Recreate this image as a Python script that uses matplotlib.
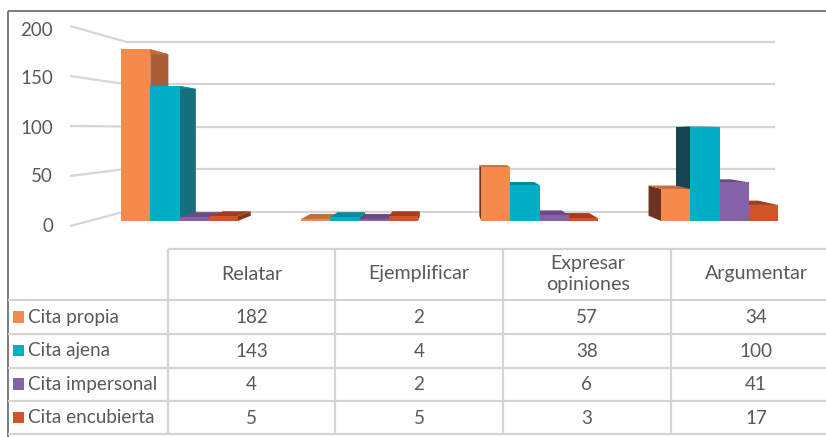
import matplotlib
matplotlib.use("Agg")
import matplotlib.pyplot as plt
from matplotlib.patches import Polygon, Rectangle

categories = ["Relatar", "Ejemplificar", "Expresar\nopiniones", "Argumentar"]
series_names = ["Cita propia", "Cita ajena", "Cita impersonal", "Cita encubierta"]
cita_propia = [182, 2, 57, 34]
cita_ajena = [143, 4, 38, 100]
cita_impersonal = [4, 2, 6, 41]
cita_encubierta = [5, 5, 3, 17]
y_ticks = [0, 50, 100, 150, 200]
series_values = [cita_propia, cita_ajena, cita_impersonal, cita_encubierta]

W, H = 826, 437
plt.rcParams["font.family"] = ["Lato", "DejaVu Sans"]
TXT = "#595959"
GRID = "#d6d6d6"
front = ["#F58A4D", "#00AFC4", "#8562A6", "#CE5528"]
top = ["#C46E3C", "#008C9E", "#6C4A88", "#A03E20"]
side = ["#A85F36", "#14707F", "#5A3D73", "#8A3419"]
side_left = ["#6E3320", "#17454F", "#4F3566", "#7A2E16"]

fig = plt.figure(figsize=(W / 100, H / 100), dpi=100)

# value axes: front plane of the bars
PX_PER_UNIT = 0.944
BASE_PX = 221.0
GROUP_X0 = 179.5
GROUP_PITCH = 180.0
BAR_W = 29.2 / GROUP_PITCH
ax = fig.add_axes([0, 0, 1, 1])
ax.set_xlim((0 - GROUP_X0) / GROUP_PITCH, (W - GROUP_X0) / GROUP_PITCH)
ax.set_ylim((BASE_PX - H) / PX_PER_UNIT, BASE_PX / PX_PER_UNIT)
ax.axis("off")

# pixel overlay for the frame and the data table
tb = fig.add_axes([0, 0, 1, 1], zorder=-1)
tb.set_xlim(0, W)
tb.set_ylim(H, 0)
tb.axis("off")

tb.add_patch(Rectangle((8, 11), W, H, fill=False, ec="#666666", lw=1.2))

# walls and gridlines
for v in y_ticks:
    wall_y = 211.5 - 0.85 * v
    side_y = 226 - 1.0 * v
    tb.plot([125, 775], [wall_y, wall_y], color=GRID, lw=1.6, solid_capstyle="butt")
    tb.plot([70, 125], [side_y, wall_y], color=GRID, lw=1.6, solid_capstyle="butt")
    tb.text(53, 226 - 0.98 * v, str(v), ha="right", va="center", fontsize=13.5, color=TXT)

# perspective bars
VX = (452 - GROUP_X0) / GROUP_PITCH
VY = (BASE_PX - 133) / PX_PER_UNIT
DEPTH = 0.06


def back(x, y):
    return x + DEPTH * (VX - x), y + DEPTH * (VY - y)


bars = []
for g in range(len(categories)):
    for s, vals in enumerate(series_values):
        x0 = g + (s - 2) * BAR_W
        bars.append((s, x0, x0 + BAR_W, vals[g]))
bars.sort(key=lambda b: -abs((b[1] + b[2]) / 2 - VX))

for s, x0, x1, v in bars:
    t = [(x0, v), (x1, v), back(x1, v), back(x0, v)]
    if x1 < VX:
        sf = [(x1, 0), (x1, v), back(x1, v), back(x1, 0)]
        ax.add_patch(Polygon(sf, closed=True, fc=side[s], ec="none"))
    if x0 > VX:
        sf = [(x0, 0), (x0, v), back(x0, v), back(x0, 0)]
        ax.add_patch(Polygon(sf, closed=True, fc=side_left[s], ec="none"))
    ax.add_patch(Polygon(t, closed=True, fc=top[s], ec="none"))
    ax.add_patch(Rectangle((x0, 0), BAR_W, v, fc=front[s], ec="none"))

# data table (the last column runs off the right edge of the picture)
col_x = [168, 335, 503, 671, 841]
row_y = [249, 300, 334, 367.5, 401, 434]
TC = "#d4d4d4"
for y in row_y:
    tb.plot([168 if y == row_y[0] else 8, W], [y, y], color=TC, lw=1.6, solid_capstyle="butt")
for x in col_x[:-1]:
    tb.plot([x, x], [row_y[0], row_y[-1]], color=TC, lw=1.6, solid_capstyle="butt")

FS = 13.6
for i, c in enumerate(categories):
    tb.text((col_x[i] + col_x[i + 1]) / 2 + (1 if i == 2 else 0), (row_y[0] + row_y[1]) / 2 - 0.5, c,
            ha="center", va="center", fontsize=14.1, color=TXT, linespacing=1.3)
for r, (name, vals) in enumerate(zip(series_names, series_values)):
    yc = (row_y[r + 1] + row_y[r + 2]) / 2
    tb.add_patch(Rectangle((12.5, yc - 6), 11.5, 11.5, fc=front[r], ec="none"))
    tb.text(28, yc, name, ha="left", va="center", fontsize=FS, color=TXT)
    for i, v in enumerate(vals):
        tb.text((col_x[i] + col_x[i + 1]) / 2, yc + 0.5, str(v), ha="center", va="center",
                fontsize=FS, color=TXT)

fig.savefig("out.png", dpi=100)
